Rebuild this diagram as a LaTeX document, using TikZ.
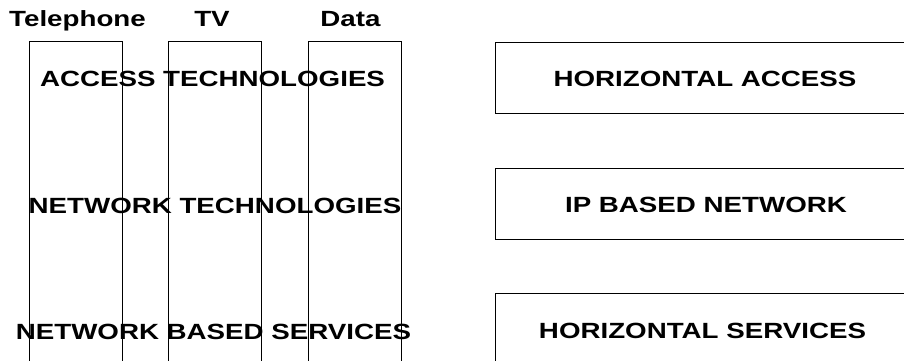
\documentclass[tikz,border=0pt]{standalone}
\usepackage{fontspec}
\setmainfont{Liberation Sans}
\begin{document}
\begin{tikzpicture}[x=1pt,y=-1pt,
  lbl/.style={font=\fontsize{22}{24}\selectfont\bfseries, inner sep=0pt, anchor=base},
  col/.style={draw=black, line width=0.9pt, minimum width=93pt, minimum height=340pt, anchor=north, inner sep=0pt},
  hbox/.style={draw=black, line width=0.9pt, minimum width=440pt, minimum height=71.5pt, anchor=north west, inner sep=0pt}]
\useasboundingbox (0,0) rectangle (904,360);
\clip (0,0) rectangle (904,360);
\fill[white] (0,0) rectangle (904,360);
% labels
\node[lbl] (tel) at (77.5,26) {\scalebox{1.26}[1]{Telephone}};
\node[lbl] (tv) at (212,26) {\scalebox{1.26}[1]{TV}};
\node[lbl] (data) at (350.5,26) {\scalebox{1.26}[1]{Data}};
% row texts
\node[lbl] (acc) at (212.5,86) {\scalebox{1.26}[1]{ACCESS TECHNOLOGIES}};
\node[lbl] (net) at (215,213) {\scalebox{1.26}[1]{NETWORK TECHNOLOGIES}};
\node[lbl] (srv) at (213.5,339) {\scalebox{1.26}[1]{NETWORK BASED SERVICES}};
% columns
\node[col] (ctel) at (75.5,41) {};
\node[col] (ctv) at (215,41) {};
\node[col] (cdata) at (355,41) {};
% right boxes
\node[hbox] (b1) at (494.5,41.5) {};
\node[hbox] (b2) at (494.5,167.7) {};
\node[hbox] (b3) at (494.5,293) {};
\node[lbl] (t1) at (705,86) {\scalebox{1.26}[1]{HORIZONTAL ACCESS}};
\node[lbl] (t2) at (706,212) {\scalebox{1.26}[1]{IP BASED NETWORK}};
\node[lbl] (t3) at (702.5,338) {\scalebox{1.26}[1]{HORIZONTAL SERVICES}};
\end{tikzpicture}
\end{document}
